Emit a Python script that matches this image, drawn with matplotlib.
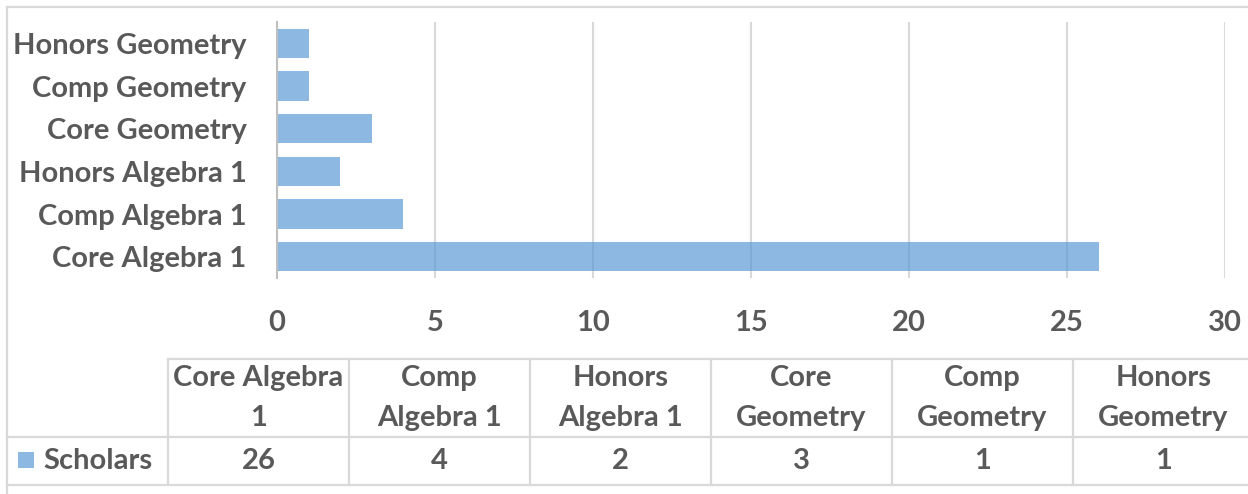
import matplotlib
matplotlib.use("Agg")
import matplotlib.pyplot as plt
from matplotlib.lines import Line2D
from matplotlib.patches import Rectangle

# ---- data ----
categories = ["Core Algebra 1", "Comp Algebra 1", "Honors Algebra 1",
              "Core Geometry", "Comp Geometry", "Honors Geometry"]
table_headers = ["Core Algebra\n1", "Comp\nAlgebra 1", "Honors\nAlgebra 1",
                 "Core\nGeometry", "Comp\nGeometry", "Honors\nGeometry"]
scholars = [26, 4, 2, 3, 1, 1]
series_name = "Scholars"
x_ticks = [0, 5, 10, 15, 20, 25, 30]

W, H = 1248, 494
TXT = "#595959"
GRID = "#d9d9d9"
BAR = "#5B9BD5"
FONT = "Lato"
FS = 21

plt.rcParams["font.family"] = [FONT, "DejaVu Sans"]
fig = plt.figure(figsize=(W / 100, H / 100), dpi=100)

def fx(x):
    return x / W

def fy(y):
    return 1 - y / H

# main axes (pixel box: x 277..1225, y 22..278)
ax = fig.add_axes([fx(277), fy(278), fx(1225) - fx(277), fy(22) - fy(278)])
ypos = list(range(len(categories)))
ax.barh(ypos, scholars, height=0.68, color=BAR, alpha=0.7, zorder=3)
ax.set_xlim(0, 30)
ax.set_ylim(-0.5, len(categories) - 0.5)
ax.set_xticks(x_ticks)
ax.set_xticklabels([str(t) for t in x_ticks])
ax.set_yticks(ypos)
ax.set_yticklabels(categories)
ax.tick_params(axis="both", length=0, labelsize=FS, labelcolor=TXT)
ax.tick_params(axis="y", pad=22)
ax.tick_params(axis="x", pad=23)
for lab in ax.get_xticklabels() + ax.get_yticklabels():
    lab.set_fontweight("bold")
ax.grid(axis="x", color=GRID, linewidth=1.5, zorder=1)
ax.grid(axis="y", visible=False)
for s in ["top", "right", "bottom"]:
    ax.spines[s].set_visible(False)
ax.spines["left"].set_color("#bfbfbf")
ax.spines["left"].set_linewidth(1.5)
ax.spines["left"].set_zorder(4)
ax.set_facecolor("none")

# chart border
def hline(x0, x1, y, color=GRID, lw=1.6):
    fig.add_artist(Line2D([fx(x0), fx(x1)], [fy(y), fy(y)], color=color,
                          linewidth=lw, transform=fig.transFigure))

def vline(x, y0, y1, color=GRID, lw=1.6):
    fig.add_artist(Line2D([fx(x), fx(x)], [fy(y0), fy(y1)], color=color,
                          linewidth=lw, transform=fig.transFigure))

hline(7, W + 5, 7)
vline(7, 7, H + 5)

# data table
col_w = 181
x0 = 168
n = len(table_headers)
hline(x0, W + 5, 359)
hline(7, W + 5, 437)
hline(7, W + 5, 485)
for i in range(n + 1):
    vline(x0 + i * col_w, 359, 485)

for i, (hdr, val) in enumerate(zip(table_headers, scholars)):
    cx = x0 + (i + 0.5) * col_w
    fig.text(fx(cx), fy(398), hdr, ha="center", va="center", fontsize=FS,
             color=TXT, fontweight="bold", linespacing=1.62)
    fig.text(fx(cx), fy(461), str(val), ha="center", va="center", fontsize=FS,
             color=TXT, fontweight="bold")

# legend key in table
fig.add_artist(Rectangle((fx(18), fy(468)), fx(16), fy(452) - fy(468),
                         transform=fig.transFigure, facecolor=BAR, alpha=0.7,
                         edgecolor="none"))
fig.text(fx(43), fy(461), series_name, ha="left", va="center", fontsize=FS,
         color=TXT, fontweight="bold")

fig.savefig("out.png", dpi=100, facecolor="white")
